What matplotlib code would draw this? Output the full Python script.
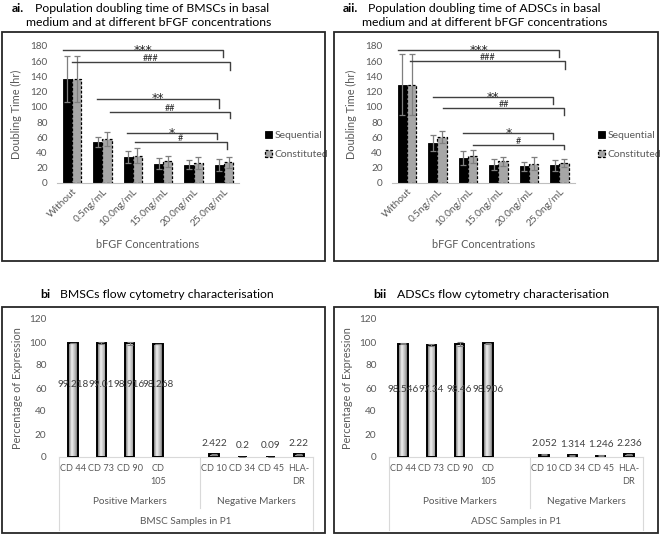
import numpy as np
import matplotlib
matplotlib.use('Agg')
import matplotlib.pyplot as plt
from matplotlib.patches import Rectangle
from matplotlib.colors import LinearSegmentedColormap
import matplotlib.transforms as mtransforms

plt.rcParams['font.family'] = ['Lato', 'DejaVu Sans']

# ---------------- data ----------------
conc_labels = ['Without', '0.5ng/mL', '10.0ng/mL', '15.0ng/mL', '20.0ng/mL', '25.0ng/mL']
series_names = ['Sequential', 'Constituted']

bm_seq = [137, 54, 34, 25.5, 24, 24]
bm_seq_err = [30, 7, 8, 7, 6, 8]
bm_con = [137, 57.5, 36, 28.5, 26.7, 27]
bm_con_err = [30, 9, 10, 7, 8, 7]

ad_seq = [129, 52.5, 33, 24, 22, 23]
ad_seq_err = [40, 10, 9, 7, 6, 7]
ad_con = [129, 60, 35, 28.5, 25.5, 26]
ad_con_err = [40, 8, 9, 6, 9, 5]

# significance brackets: (label, start category pos, end category pos, line y, end-drop y)
bm_sig = [('***', -0.29, 4.96, 175, 165),
          ('###', -0.01, 5.20, 159, 148),
          ('**', 0.81, 4.84, 111, 99),
          ('##', 1.25, 5.20, 93, 86),
          ('*', 1.80, 4.76, 66, 58),
          ('#', 2.07, 5.09, 54, 45)]
ad_sig = [('***', -0.28, 4.99, 175, 165.5),
          ('###', 0.10, 5.19, 160, 150),
          ('**', 0.86, 4.80, 113, 104),
          ('##', 1.19, 5.16, 98, 89),
          ('*', 1.85, 4.80, 66, 58),
          ('#', 2.17, 5.16, 50, 45)]

marker_labels = ['CD 44', 'CD 73', 'CD 90', 'CD\n105', 'CD 10', 'CD 34', 'CD 45', 'HLA-\nDR']
group_labels = ['Positive Markers', 'Negative Markers']
bm_expr = [99.218, 99.01, 98.916, 98.268, 2.422, 0.2, 0.09, 2.22]
bm_expr_err = [0.3, 0.8, 1.5, 0.3, 0.4, 0.1, 0.1, 0.4]
ad_expr = [98.546, 97.34, 98.46, 98.906, 2.052, 1.314, 1.246, 2.236]
ad_expr_err = [0.3, 1.2, 1.8, 0.3, 0.4, 0.2, 0.2, 0.4]

# ---------------- style ----------------
GREY_TXT = '#595959'
W, H = 660, 535
fig = plt.figure(figsize=(W / 100, H / 100), dpi=100)


def fx(px):
    return px / W


def fy(py):
    return 1 - py / H


def box(x0, y0, x1, y1):
    fig.add_artist(Rectangle((fx(x0), fy(y1)), fx(x1 - x0), (y1 - y0) / H,
                             transform=fig.transFigure, fill=False,
                             edgecolor='#262626', lw=1.3))


def panel_a(rect, seq, seq_err, con, con_err, sig, show_legend_at):
    ax = fig.add_axes(rect)
    x = np.arange(len(conc_labels))
    w = 0.3
    ax.bar(x - w / 2, seq, w, color='black', edgecolor='black', lw=0.6, zorder=2,
           label=series_names[0])
    ax.bar(x + w / 2, con, w, color='#a6a6a6', edgecolor='black', lw=0.9,
           linestyle=(0, (2.2, 1.4)), zorder=2, label=series_names[1])
    for xx, v, e in ((x - w / 2, seq, seq_err), (x + w / 2, con, con_err)):
        ax.errorbar(xx, v, yerr=e, fmt='none', ecolor='#7f7f7f', elinewidth=0.9,
                    capsize=2.3, capthick=0.9, zorder=3)
    for lab, x0, x1, y, yd in sig:
        ax.plot([x0, x1, x1], [y, y, yd], color='#404040', lw=1.0, clip_on=False, zorder=4)
        if '*' in lab:
            ax.annotate(lab, ((x0 + x1) / 2, y), xytext=(0, -2.8), textcoords='offset points',
                        ha='center', va='baseline', fontsize=9, color='#262626',
                        family='DejaVu Sans')
        else:
            ax.annotate(lab, ((x0 + x1) / 2, y), xytext=(0, 0.8), textcoords='offset points',
                        ha='center', va='baseline', fontsize=6.5, color='#262626')
    ax.set_xlim(-0.5, 5.5)
    ax.set_ylim(0, 180)
    ax.set_yticks(range(0, 181, 20))
    ax.set_xticks(x)
    ax.set_xticklabels(conc_labels, rotation=45, ha='right', rotation_mode='anchor')
    ax.tick_params(axis='x', length=0, pad=3, labelsize=7.3, labelcolor=GREY_TXT)
    ax.tick_params(axis='y', length=0, pad=6.5, labelsize=7.2, labelcolor=GREY_TXT)
    for s in ('top', 'right', 'left'):
        ax.spines[s].set_visible(False)
    ax.spines['bottom'].set_color('#bfbfbf')
    ax.set_ylabel('Doubling Time (hr)', fontsize=7.8, color=GREY_TXT)
    ax.yaxis.set_label_coords(-0.19, 0.5)
    ax.set_xlabel('bFGF Concentrations', fontsize=7.8, color=GREY_TXT)
    ax.xaxis.set_label_coords(0.5, -0.41)
    ax.legend(loc='center left', bbox_to_anchor=show_legend_at, bbox_transform=fig.transFigure,
              frameon=False, fontsize=7.5, handlelength=0.6, handleheight=0.6,
              handletextpad=0.3, labelspacing=0.95, labelcolor=GREY_TXT)
    return ax


cmap = LinearSegmentedColormap.from_list('cyl', [(0, '#5e5e5e'), (0.38, '#f2f2f2'),
                                                   (0.75, '#b0b0b0'), (1, '#5a5a5a')])
grad = np.linspace(0, 1, 64).reshape(1, -1)


def panel_b(rect, vals, errs, sample_label, label_y):
    ax = fig.add_axes(rect)
    pos = np.array(list(range(4)) + list(range(5, 9)))
    bars = ax.bar(pos, vals, 0.34, facecolor='none', edgecolor='black', lw=1.4, zorder=3)
    for r in bars:
        x0, y0, w, h = r.get_x(), r.get_y(), r.get_width(), r.get_height()
        im = ax.imshow(grad, extent=[x0, x0 + w, y0, y0 + h], cmap=cmap, aspect='auto',
                       zorder=2, interpolation='bilinear')
        im.set_clip_path(r)
    ax.errorbar(pos, vals, yerr=errs, fmt='none', ecolor='#7f7f7f', elinewidth=0.8,
                capsize=2, capthick=0.8, zorder=4)
    for i, (p, v) in enumerate(zip(pos, vals)):
        if i < 4:
            ax.text(p, label_y, f'{v}', ha='center', va='center', fontsize=7.2, color='#404040', zorder=5)
        else:
            ax.text(p, v + 9.5, f'{v}', ha='center', va='center', fontsize=7.2, color='#404040', zorder=5)
    ax.set_xlim(-0.5, 8.5)
    ax.set_ylim(0, 120)
    ax.set_yticks(range(0, 121, 20))
    ax.set_xticks(pos)
    ax.set_xticklabels(marker_labels, linespacing=1.55)
    ax.tick_params(axis='x', length=0, pad=5, labelsize=6.6, labelcolor=GREY_TXT)
    ax.tick_params(axis='y', length=0, pad=9, labelsize=7.2, labelcolor=GREY_TXT)
    for s in ('top', 'right', 'left'):
        ax.spines[s].set_visible(False)
    ax.spines['bottom'].set_color('#d9d9d9')
    trans = mtransforms.blended_transform_factory(ax.transData, ax.transAxes)
    ax.text(2, -0.326, group_labels[0], transform=trans, ha='center', va='center',
            fontsize=7.2, color=GREY_TXT)
    ax.text(6.5, -0.326, group_labels[1], transform=trans, ha='center', va='center',
            fontsize=7.2, color=GREY_TXT)
    ax.text(4, -0.471, sample_label, transform=trans, ha='center', va='center',
            fontsize=7.2, color=GREY_TXT)
    for xv, yb in ((-0.5, -0.53), (4.5, -0.37), (8.5, -0.53)):
        ax.plot([xv, xv], [0, yb], transform=trans, color='#d9d9d9', lw=0.8, clip_on=False)
    ax.set_ylabel('Percentage of Expression', fontsize=7.8, color=GREY_TXT)
    ax.yaxis.set_label_coords(-0.142, 0.5)
    return ax


# ---------------- boxes ----------------
box(2, 32, 325, 261)
box(334, 32, 658, 261)
box(2, 307, 325, 533)
box(334, 307, 658, 533)

# ---------------- titles ----------------
TS = 8.8
fig.text(fx(12), fy(8), 'ai.', fontsize=TS, fontweight='bold', va='center')
fig.text(fx(35), fy(8), 'Population doubling time of BMSCs in basal', fontsize=TS, va='center')
fig.text(fx(26), fy(22), 'medium and at different bFGF concentrations', fontsize=TS, va='center')
fig.text(fx(343), fy(8), 'aii.', fontsize=TS, fontweight='bold', va='center')
fig.text(fx(368), fy(8), 'Population doubling time of ADSCs in basal', fontsize=TS, va='center')
fig.text(fx(362), fy(22), 'medium and at different bFGF concentrations', fontsize=TS, va='center')
fig.text(fx(40), fy(295), 'bi', fontsize=TS, fontweight='bold', va='center')
fig.text(fx(60), fy(295), 'BMSCs flow cytometry characterisation', fontsize=TS, va='center')
fig.text(fx(373), fy(295), 'bii', fontsize=TS, fontweight='bold', va='center')
fig.text(fx(397), fy(295), 'ADSCs flow cytometry characterisation', fontsize=TS, va='center')

# ---------------- panels ----------------
panel_a([fx(56.8), fy(183), 182.4 / W, 137 / H], bm_seq, bm_seq_err, bm_con, bm_con_err,
        bm_sig, (fx(256), fy(145)))
panel_a([fx(391.7), fy(183), 183 / W, 137 / H], ad_seq, ad_seq_err, ad_con, ad_con_err,
        ad_sig, (fx(589), fy(145)))
panel_b([fx(59), fy(457), 254 / W, 138 / H], bm_expr, bm_expr_err, 'BMSC Samples in P1', 63)
panel_b([fx(389), fy(457), 254 / W, 138 / H], ad_expr, ad_expr_err, 'ADSC Samples in P1', 58.5)

fig.savefig('out.png', dpi=100)
